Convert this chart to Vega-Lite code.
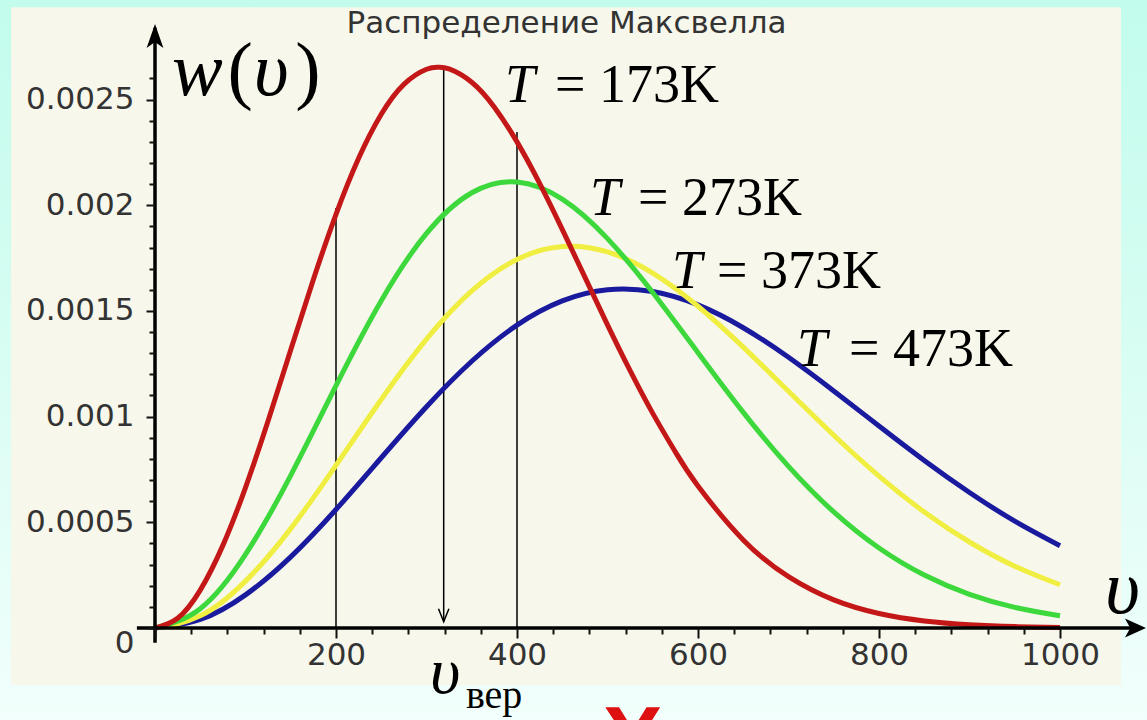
{
  "$schema": "https://vega.github.io/schema/vega-lite/v6.json",
  "width": 905,
  "height": 606,
  "autosize": {"type": "none"},
  "padding": {"left": 155, "top": 22, "right": 87, "bottom": 92},
  "background": "#e2fdf6",
  "config": {"view": {"stroke": null}},
  "datasets": {
    "bg": [{"v": -200, "v2": 1140, "w": 0.0031, "w2": -0.0005}],
    "panel": [{"v": -159, "v2": 1067.4, "w": 0.002937, "w2": -0.00027}],
    "guides": [{"v": 200, "w": 0, "w2": 0.001987}, {"v": 400, "w": 0, "w2": 0.002346}, {"v": 319, "w": 0.00003, "w2": 0.002654}],
    "arrowtip": [{"v": 319, "w": 0.00003}],
    "yaxisline": [{"v": 0, "w": -0.00007, "w2": 0.00284}],
    "xaxisline": [{"v": -20, "v2": 1090, "w": 0}],
    "ytip": [{"v": 0, "w": 0.002857}],
    "xtip": [{"v": 1095, "w": 0}],
    "curves": [
      {"T": "473", "v": 0, "w": 0}, {"T": "473", "v": 50, "w": 0.0000403}, {"T": "473", "v": 100, "w": 0.0001568}, {"T": "473", "v": 150, "w": 0.0003367}, {"T": "473", "v": 200, "w": 0.0005607}, {"T": "473", "v": 250, "w": 0.0008055}, {"T": "473", "v": 300, "w": 0.0010468}, {"T": "473", "v": 350, "w": 0.001262}, {"T": "473", "v": 400, "w": 0.0014331}, {"T": "473", "v": 450, "w": 0.0015477}, {"T": "473", "v": 500, "w": 0.0016003}, {"T": "473", "v": 550, "w": 0.0015918}, {"T": "473", "v": 600, "w": 0.0015285}, {"T": "473", "v": 650, "w": 0.0014206}, {"T": "473", "v": 700, "w": 0.0012806}, {"T": "473", "v": 750, "w": 0.0011215}, {"T": "473", "v": 800, "w": 0.0009556}, {"T": "473", "v": 850, "w": 0.0007927}, {"T": "473", "v": 900, "w": 0.0006411}, {"T": "473", "v": 950, "w": 0.0005057}, {"T": "473", "v": 1000, "w": 0.0003894},
      {"T": "373", "v": 0, "w": 0}, {"T": "373", "v": 50, "w": 0.0000574}, {"T": "373", "v": 100, "w": 0.0002217}, {"T": "373", "v": 150, "w": 0.0004702}, {"T": "373", "v": 200, "w": 0.0007694}, {"T": "373", "v": 250, "w": 0.0010808}, {"T": "373", "v": 300, "w": 0.0013664}, {"T": "373", "v": 350, "w": 0.0015945}, {"T": "373", "v": 400, "w": 0.0017439}, {"T": "373", "v": 450, "w": 0.0018047}, {"T": "373", "v": 500, "w": 0.0017794}, {"T": "373", "v": 550, "w": 0.0016794}, {"T": "373", "v": 600, "w": 0.0015224}, {"T": "373", "v": 650, "w": 0.0013289}, {"T": "373", "v": 700, "w": 0.0011197}, {"T": "373", "v": 750, "w": 0.0009118}, {"T": "373", "v": 800, "w": 0.0007187}, {"T": "373", "v": 850, "w": 0.000549}, {"T": "373", "v": 900, "w": 0.0004069}, {"T": "373", "v": 950, "w": 0.0002925}, {"T": "373", "v": 1000, "w": 0.0002044},
      {"T": "273", "v": 0, "w": 0}, {"T": "273", "v": 50, "w": 0.0000913}, {"T": "273", "v": 100, "w": 0.000348}, {"T": "273", "v": 150, "w": 0.0007222}, {"T": "273", "v": 200, "w": 0.0011465}, {"T": "273", "v": 250, "w": 0.0015487}, {"T": "273", "v": 300, "w": 0.0018667}, {"T": "273", "v": 350, "w": 0.0020591}, {"T": "273", "v": 400, "w": 0.0021101}, {"T": "273", "v": 450, "w": 0.002029}, {"T": "273", "v": 500, "w": 0.0018422}, {"T": "273", "v": 550, "w": 0.0015872}, {"T": "273", "v": 600, "w": 0.0013024}, {"T": "273", "v": 650, "w": 0.0010203}, {"T": "273", "v": 700, "w": 0.0007647}, {"T": "273", "v": 750, "w": 0.0005492}, {"T": "273", "v": 800, "w": 0.0003785}, {"T": "273", "v": 850, "w": 0.0002506}, {"T": "273", "v": 900, "w": 0.0001595}, {"T": "273", "v": 950, "w": 0.0000977}, {"T": "273", "v": 1000, "w": 0.0000576},
      {"T": "173", "v": 0, "w": 0}, {"T": "173", "v": 25, "w": 0.0000457}, {"T": "173", "v": 50, "w": 0.0001794}, {"T": "173", "v": 75, "w": 0.0003909}, {"T": "173", "v": 100, "w": 0.0006645}, {"T": "173", "v": 125, "w": 0.0009805}, {"T": "173", "v": 150, "w": 0.0013162}, {"T": "173", "v": 175, "w": 0.0016488}, {"T": "173", "v": 200, "w": 0.0019571}, {"T": "173", "v": 225, "w": 0.0022223}, {"T": "173", "v": 250, "w": 0.0024304}, {"T": "173", "v": 275, "w": 0.0025721}, {"T": "173", "v": 300, "w": 0.0026433}, {"T": "173", "v": 313, "w": 0.002653}, {"T": "173", "v": 325, "w": 0.0026449}, {"T": "173", "v": 350, "w": 0.0025819}, {"T": "173", "v": 375, "w": 0.0024635}, {"T": "173", "v": 400, "w": 0.0022999}, {"T": "173", "v": 425, "w": 0.0021035}, {"T": "173", "v": 450, "w": 0.0018862}, {"T": "173", "v": 475, "w": 0.0016599}, {"T": "173", "v": 500, "w": 0.0014343}, {"T": "173", "v": 525, "w": 0.0012172}, {"T": "173", "v": 550, "w": 0.0010154}, {"T": "173", "v": 575, "w": 0.0008328}, {"T": "173", "v": 600, "w": 0.0006719}, {"T": "173", "v": 650, "w": 0.0004167}, {"T": "173", "v": 700, "w": 0.0002426}, {"T": "173", "v": 750, "w": 0.0001328}, {"T": "173", "v": 800, "w": 0.0000685}, {"T": "173", "v": 850, "w": 0.0000333}, {"T": "173", "v": 900, "w": 0.0000153}, {"T": "173", "v": 950, "w": 0.0000066}, {"T": "173", "v": 1000, "w": 0.0000027}
    ],
    "titleText": [{"v": 454.7, "w": 0.002814, "text": "Распределение Максвелла"}],
    "tItalic": [{"v": 386.7, "w": 0.002488, "text": "T"}, {"v": 480.7, "w": 0.001953, "text": "T"}, {"v": 571.3, "w": 0.001608, "text": "T"}, {"v": 709.4, "w": 0.001239, "text": "T"}],
    "tRest": [{"v": 442, "w": 0.002488, "text": "= 173K"}, {"v": 533.7, "w": 0.001953, "text": "= 273K"}, {"v": 621, "w": 0.001608, "text": "= 373K"}, {"v": 766.9, "w": 0.001239, "text": "= 473K"}],
    "bigItalic": [{"v": 18.8, "w": 0.002521, "text": "w"}, {"v": 109, "w": 0.002521, "text": "υ"}, {"v": 1049.7, "w": 0.000071, "text": "υ"}],
    "parens": [{"v": 80, "w": 0.002521, "text": "("}, {"v": 155, "w": 0.002521, "text": ")"}],
    "vMain": [{"v": 303.9, "w": -0.000307, "text": "υ"}],
    "vSub": [{"v": 343.6, "w": -0.000378, "text": "вер"}],
    "redMark": [{"v": 528, "w": -0.000672, "text": "Х"}]
  },
  "encoding": {
    "x": {
      "field": "v", "type": "quantitative",
      "scale": {"domain": [0, 1000], "nice": false, "zero": false},
      "axis": {
        "title": null, "domain": false, "grid": false, "zindex": 1,
        "values": [0, 40, 80, 120, 160, 200, 240, 280, 320, 360, 400, 440, 480, 520, 560, 600, 640, 680, 720, 760, 800, 840, 880, 920, 960, 1000],
        "format": "d",
        "labelExpr": "datum.value % 200 === 0 && datum.value > 0 ? datum.label : ''",
        "tickSize": {"condition": {"test": "datum.value % 200 === 0", "value": 10}, "value": 6},
        "tickWidth": 2, "tickColor": "#111111",
        "labelFont": "DejaVu Sans", "labelFontSize": 31, "labelColor": "#333333",
        "labelPadding": 2, "labelBaseline": "top", "labelFlush": false, "labelOverlap": false
      }
    },
    "y": {
      "field": "w", "type": "quantitative",
      "scale": {"domain": [0, 0.002867], "nice": false, "zero": false},
      "axis": {
        "title": null, "domain": false, "grid": false, "zindex": 1,
        "values": [0, 0.0001, 0.0002, 0.0003, 0.0004, 0.0005, 0.0006, 0.0007, 0.0008, 0.0009, 0.001, 0.0011, 0.0012, 0.0013, 0.0014, 0.0015, 0.0016, 0.0017, 0.0018, 0.0019, 0.002, 0.0021, 0.0022, 0.0023, 0.0024, 0.0025, 0.0026],
        "labelExpr": "abs(datum.value * 2000 - round(datum.value * 2000)) < 0.001 ? format(datum.value, '~g') : ''",
        "tickSize": {"condition": {"test": "abs(datum.value * 2000 - round(datum.value * 2000)) < 0.001", "value": 9}, "value": 6},
        "labelOffset": {"condition": {"test": "datum.value === 0", "value": 15}, "value": 0},
        "tickWidth": 2, "tickColor": "#111111",
        "labelFont": "DejaVu Sans", "labelFontSize": 31, "labelColor": "#333333",
        "labelPadding": 12, "labelFlush": false, "labelOverlap": false
      }
    }
  },
  "layer": [
    {
      "data": {"name": "bg"},
      "mark": {"type": "rect", "stroke": null, "fill": {"gradient": "linear", "x1": 0, "y1": 0, "x2": 0, "y2": 1, "stops": [{"offset": 0, "color": "#c0fcec"}, {"offset": 0.5, "color": "#d8fdf3"}, {"offset": 1, "color": "#f3fffc"}]}},
      "encoding": {"x2": {"field": "v2"}, "y2": {"field": "w2"}}
    },
    {
      "data": {"name": "panel"},
      "mark": {"type": "rect", "fill": "#f7f7eb", "stroke": null},
      "encoding": {"x2": {"field": "v2"}, "y2": {"field": "w2"}}
    },
    {
      "data": {"name": "titleText"},
      "mark": {"type": "text", "font": "DejaVu Sans", "fontSize": 31, "align": "center", "baseline": "alphabetic", "color": "#333333"},
      "encoding": {"text": {"field": "text"}}
    },
    {
      "data": {"name": "guides"},
      "mark": {"type": "rule", "color": "#000000", "strokeWidth": 1.5},
      "encoding": {"y2": {"field": "w2"}}
    },
    {
      "data": {"name": "arrowtip"},
      "mark": {"type": "point", "shape": "M-0.4,-1L0,0L0.4,-1", "size": 676, "filled": false, "stroke": "#000000", "strokeWidth": 1.5, "opacity": 1}
    },
    {
      "data": {"name": "curves"},
      "mark": {"type": "line", "strokeWidth": 5, "interpolate": "natural"},
      "encoding": {
        "color": {"field": "T", "type": "nominal", "scale": {"domain": ["173", "273", "373", "473"], "range": ["#c41818", "#3cd83c", "#f0ee40", "#1a1a9e"]}, "legend": null}
      }
    },
    {
      "data": {"name": "yaxisline"},
      "mark": {"type": "rule", "color": "#000000", "strokeWidth": 3.5},
      "encoding": {"y2": {"field": "w2"}}
    },
    {
      "data": {"name": "xaxisline"},
      "mark": {"type": "rule", "color": "#000000", "strokeWidth": 3.5},
      "encoding": {"x2": {"field": "v2"}}
    },
    {
      "data": {"name": "ytip"},
      "mark": {"type": "point", "shape": "M0,0L-0.35,1L0,0.75L0.35,1Z", "size": 2304, "filled": true, "color": "#000000", "opacity": 1}
    },
    {
      "data": {"name": "xtip"},
      "mark": {"type": "point", "shape": "M0,0L-1,-0.45L-0.75,0L-1,0.45Z", "size": 1764, "filled": true, "color": "#000000", "opacity": 1}
    },
    {
      "data": {"name": "tItalic"},
      "mark": {"type": "text", "font": "Liberation Serif", "fontStyle": "italic", "fontSize": 54, "align": "left", "baseline": "alphabetic", "color": "#000000"},
      "encoding": {"text": {"field": "text"}}
    },
    {
      "data": {"name": "tRest"},
      "mark": {"type": "text", "font": "Liberation Serif", "fontSize": 54, "align": "left", "baseline": "alphabetic", "color": "#000000"},
      "encoding": {"text": {"field": "text"}}
    },
    {
      "data": {"name": "bigItalic"},
      "mark": {"type": "text", "font": "Liberation Serif", "fontStyle": "italic", "fontSize": 76, "align": "left", "baseline": "alphabetic", "color": "#000000"},
      "encoding": {"text": {"field": "text"}}
    },
    {
      "data": {"name": "parens"},
      "mark": {"type": "text", "font": "Liberation Serif", "fontSize": 76, "align": "left", "baseline": "alphabetic", "color": "#000000"},
      "encoding": {"text": {"field": "text"}}
    },
    {
      "data": {"name": "vMain"},
      "mark": {"type": "text", "font": "Liberation Serif", "fontStyle": "italic", "fontSize": 66, "align": "left", "baseline": "alphabetic", "color": "#000000"},
      "encoding": {"text": {"field": "text"}}
    },
    {
      "data": {"name": "vSub"},
      "mark": {"type": "text", "font": "Liberation Serif", "fontSize": 40, "align": "left", "baseline": "alphabetic", "color": "#000000"},
      "encoding": {"text": {"field": "text"}}
    },
    {
      "data": {"name": "redMark"},
      "mark": {"type": "text", "font": "Liberation Sans", "fontWeight": "bold", "fontSize": 90, "align": "center", "baseline": "alphabetic", "color": "#dd1111"},
      "encoding": {"text": {"field": "text"}}
    }
  ]
}
